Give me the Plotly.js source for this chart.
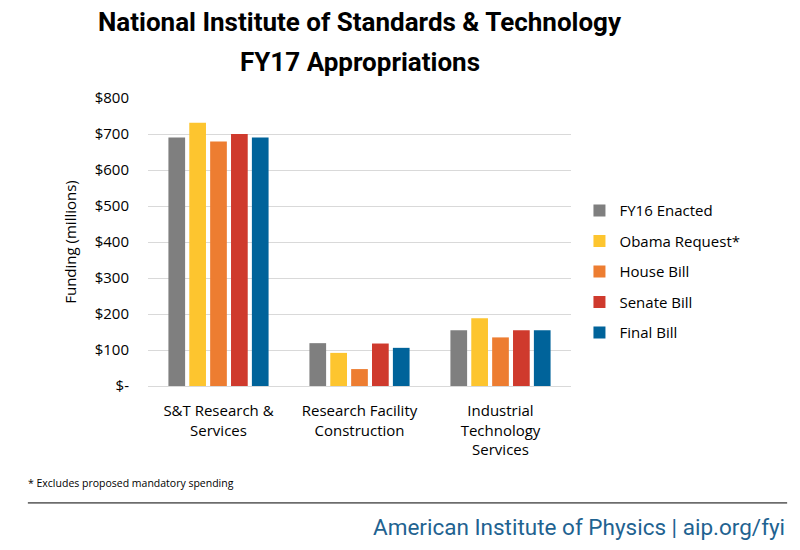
<!DOCTYPE html>
<html>
<head>
<meta charset="utf-8">
<script src="https://cdn.plot.ly/plotly-3.0.1.min.js"></script>
<style>html,body{margin:0;padding:0;background:#fff;}#chart{width:800px;height:550px;}</style>
</head>
<body>
<div id="chart"></div>
<script>
const categories = ["S&T Research &<br>Services", "Research Facility<br>Construction", "Industrial<br>Technology<br>Services"];
const seriesNames = ["FY16 Enacted", "Obama Request*", "House Bill", "Senate Bill", "Final Bill"];
const fy16 = [690, 119, 155];
const request = [731, 92, 188];
const house = [679, 47, 135];
const senate = [700, 118, 155];
const final = [690, 106, 155];
const colors = ["#7f7f7f", "#fdc52f", "#ed7d31", "#cf3a2d", "#00639a"];
const yTicks = [0, 100, 200, 300, 400, 500, 600, 700, 800];
const yTickLabels = ["$-", "$100", "$200", "$300", "$400", "$500", "$600", "$700", "$800"];

const allSeries = [fy16, request, house, senate, final];
const traces = allSeries.map((vals, i) => ({
  type: "bar",
  name: seriesNames[i],
  legendgroup: "g" + i,
  x: categories,
  y: vals,
  marker: {color: colors[i]},
  hoverinfo: "none"
}));

const bodyFont = "Open Sans, Lato, sans-serif";
const narrow = "Roboto, Liberation Sans Narrow, sans-serif";

const layout = {
  width: 800, height: 550,
  margin: {l: 148, r: 229, t: 98, b: 164},
  paper_bgcolor: "#fff", plot_bgcolor: "#fff",
  barmode: "group", bargap: 0.26, bargroupgap: 0.2,
  showlegend: true,
  legend: {x: 1.02, y: 0.666, xanchor: "left", yanchor: "top", traceorder: "grouped",
           font: {family: bodyFont, size: 15, color: "#000"}, tracegroupgap: 8, itemwidth: 30},
  xaxis: {tickfont: {family: bodyFont, size: 15, color: "#000"}, showline: false, ticks: "",
          ticklabelstandoff: 14, fixedrange: true},
  yaxis: {range: [0, 800], tickvals: yTicks, ticktext: yTickLabels,
          tickfont: {family: bodyFont, size: 15, color: "#000"},
          gridcolor: "#d9d9d9", gridwidth: 1, zeroline: true, zerolinecolor: "#d9d9d9",
          ticks: "", ticklabelstandoff: 18,
          title: {text: "Funding (millions)", font: {family: bodyFont, size: 15, color: "#000"}, standoff: 14}},
  shapes: [{type: "line", xref: "paper", yref: "paper", x0: -0.284, x1: 1.511, y0: -0.406, y1: -0.406,
            line: {color: "#000", width: 1}}],
  annotations: [
    {text: "<b>National Institute of Standards & Technology</b>", xref: "paper", yref: "paper", x: 0.5, y: 1.264,
     xanchor: "center", yanchor: "middle", showarrow: false, font: {family: narrow, size: 26, color: "#000"}},
    {text: "<b>FY17 Appropriations</b>", xref: "paper", yref: "paper", x: 0.5, y: 1.125,
     xanchor: "center", yanchor: "middle", showarrow: false, font: {family: narrow, size: 26, color: "#000"}},
    {text: "* Excludes proposed mandatory spending", xref: "paper", yref: "paper", x: -0.289, y: -0.337,
     xanchor: "left", yanchor: "middle", showarrow: false, font: {family: bodyFont, size: 10.5, color: "#000"}},
    {text: "American Institute of Physics | aip.org/fyi", xref: "paper", yref: "paper", x: 1.511, y: -0.490,
     xanchor: "right", yanchor: "middle", showarrow: false, font: {family: narrow, size: 22.5, color: "#1f6391"}}
  ]
};

Plotly.newPlot("chart", traces, layout, {displayModeBar: false, staticPlot: true});
</script>
</body>
</html>
